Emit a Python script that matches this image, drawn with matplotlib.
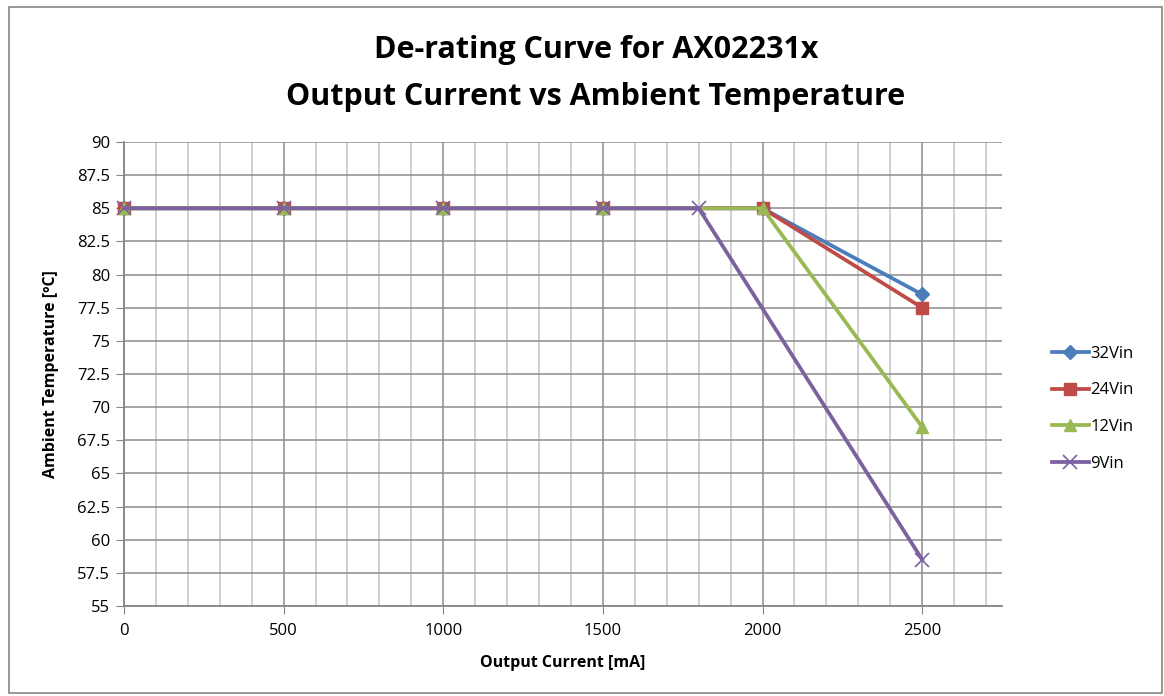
import matplotlib
matplotlib.use("Agg")
import matplotlib.pyplot as plt
from matplotlib.patches import Rectangle
from matplotlib.ticker import MultipleLocator

plt.rcParams['font.family'] = ['Open Sans', 'DejaVu Sans']

# data
x_32 = [0, 500, 1000, 1500, 2000, 2500]
y_32 = [85, 85, 85, 85, 85, 78.5]
x_24 = [0, 500, 1000, 1500, 2000, 2500]
y_24 = [85, 85, 85, 85, 85, 77.5]
x_12 = [0, 500, 1000, 1500, 2000, 2500]
y_12 = [85, 85, 85, 85, 85, 68.5]
x_9 = [0, 500, 1000, 1500, 1800, 2500]
y_9 = [85, 85, 85, 85, 85, 58.5]

W, H = 1164, 696
fig = plt.figure(figsize=(W / 100, H / 100), dpi=100)
ax = fig.add_axes([124 / W, 1 - 606 / H, (1002 - 124) / W, (606 - 142) / H])

ax.plot(x_32, y_32, color="#4a7ebb", lw=2.7, marker="D", ms=7, label="32Vin", zorder=3, clip_on=False)
ax.plot(x_24, y_24, color="#be4b48", lw=2.7, marker="s", ms=8.5, label="24Vin", zorder=4, clip_on=False)
ax.plot(x_12, y_12, color="#98b954", lw=2.7, marker="^", ms=9, label="12Vin", zorder=5, clip_on=False)
ax.plot(x_9, y_9, color="#7d60a0", lw=2.7, marker="x", ms=9.5, mew=1.2, label="9Vin", zorder=6, clip_on=False)

ax.set_xlim(0, 2750)
ax.xaxis.set_major_locator(MultipleLocator(500))
ax.xaxis.set_minor_locator(MultipleLocator(100))
yt = [55 + 2.5 * i for i in range(15)]
ax.set_yticks(yt)
ax.set_yticklabels([f"{v:g}" for v in yt])
ax.set_ylim(55, 90)

ax.grid(which="major", color="#8c8c8c", lw=1.1)
ax.grid(which="minor", axis="x", color="#c4c4c4", lw=1.1)
ax.set_axisbelow(True)

for s in ["top", "right"]:
    ax.spines[s].set_visible(False)
for s in ["left", "bottom"]:
    ax.spines[s].set_color("#868686")
    ax.spines[s].set_linewidth(1.3)
ax.tick_params(which="major", axis="x", length=6, color="#868686", labelsize=12, pad=6)
ax.tick_params(which="minor", axis="x", length=0)
ax.tick_params(axis="y", length=6, color="#868686", labelsize=12, pad=4)

ax.set_xlabel("Output Current [mA]", fontsize=11.5, fontweight="bold", labelpad=12)
ax.set_ylabel("Ambient Temperature [ºC]", fontsize=11.5, fontweight="bold", labelpad=13)

fig.text(596 / W, 1 - 50 / H, "De-rating Curve for AX02231x",
         ha="center", va="center", fontsize=22, fontweight="bold")
fig.text(596 / W, 1 - 97 / H, "Output Current vs Ambient Temperature",
         ha="center", va="center", fontsize=22, fontweight="bold")

leg = ax.legend(loc="center left", bbox_to_anchor=(1.04, 0.425), frameon=False,
                fontsize=12, handlelength=2.2, handletextpad=0.1, labelspacing=1.25)

fig.patches.append(Rectangle((0.008, 0.004), 0.99, 0.986, transform=fig.transFigure,
                             fill=False, edgecolor="#868686", lw=1.2))

fig.savefig("out.png", dpi=100)
